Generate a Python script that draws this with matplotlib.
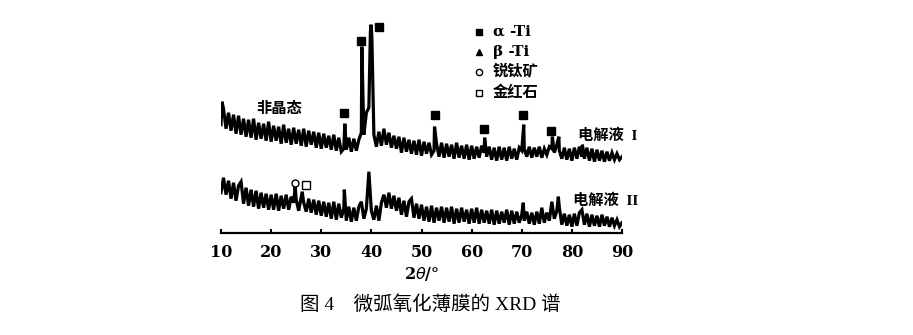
"""微弧氧化薄膜的 XRD 谱（图 4）重绘。"""

import matplotlib
matplotlib.use("Agg")
import matplotlib.pyplot as plt
import numpy as np

plt.rcParams["font.family"] = ["DejaVu Serif", "Noto Sans CJK SC"]

# ---------------- 数据 ----------------
# 衍射角网格 0.5° 步长上的强度（相对坐标轴高度）
grid = np.arange(10.0, 90.01, 0.5)

int_I = [
    108, 124, 104, 120, 102, 118, 99, 117, 98, 114,      # 10.0 - 14.5
    96, 113, 95, 114, 93, 110, 94, 109, 92, 111,         # 15.0 - 19.5
    91, 107, 92, 106, 89, 108, 90, 104, 88, 105,         # 20.0 - 24.5
    89, 103, 87, 104, 86, 102, 88, 101, 85, 100,         # 25.0 - 29.5
    84, 99, 85, 97, 83, 98, 82, 95, 81, 84,              # 30.0 - 34.5
    83, 95, 81, 94, 82, 93, 100, 98, 120, 125,           # 35.0 - 39.5
    205, 98, 86, 101, 87, 104, 88, 100, 85, 97,          # 40.0 - 44.5
    84, 96, 80, 95, 81, 93, 79, 92, 78, 93,              # 45.0 - 49.5
    77, 91, 79, 90, 78, 82, 89, 76, 90, 75,              # 50.0 - 54.5
    89, 76, 88, 74, 90, 75, 87, 74, 88, 73,              # 55.0 - 59.5
    87, 74, 86, 75, 87, 80, 76, 86, 73, 85,              # 60.0 - 64.5
    72, 86, 73, 85, 72, 86, 74, 84, 73, 85,              # 65.0 - 69.5
    82, 84, 76, 86, 75, 85, 76, 86, 75, 84,              # 70.0 - 74.5
    78, 86, 84, 80, 88, 82, 74, 85, 73, 84,              # 75.0 - 79.5
    72, 85, 74, 86, 76, 74, 85, 72, 84, 71,              # 80.0 - 84.5
    83, 72, 82, 71, 81, 72, 80, 73, 79, 73,              # 85.0 - 89.5
    76,                                                  # 90.0
]
peak_x_I = [10.2, 34.7, 38.1, 39.8, 39.9, 40.1, 52.6, 62.6, 70.4, 76.1, 77.4, 82.1]
peak_y_I = [131, 109, 186, 200, 208, 195, 106, 95, 108, 96, 96, 88]

int_II = [
    40, 55, 38, 52, 34, 50, 32, 47, 51, 29,              # 10.0 - 14.5
    45, 27, 43, 26, 42, 24, 40, 25, 39, 23,              # 15.0 - 19.5
    38, 23, 39, 22, 37, 24, 38, 23, 36, 30,              # 20.0 - 24.5
    33, 22, 36, 30, 21, 34, 20, 33, 18, 32,              # 25.0 - 29.5
    17, 31, 16, 30, 14, 31, 13, 29, 15, 24,              # 30.0 - 34.5
    12, 26, 11, 25, 12, 26, 31, 14, 24, 61,              # 35.0 - 39.5
    22, 13, 27, 12, 30, 38, 25, 40, 24, 37,              # 40.0 - 44.5
    22, 35, 18, 32, 16, 31, 34, 15, 29, 14,              # 45.0 - 49.5
    28, 12, 26, 11, 27, 10, 25, 12, 26, 10,              # 50.0 - 54.5
    25, 11, 26, 9, 24, 10, 25, 11, 23, 9,                # 55.0 - 59.5
    24, 10, 25, 9, 23, 10, 22, 9, 23, 8,                 # 60.0 - 64.5
    22, 9, 21, 10, 23, 8, 22, 9, 21, 10,                 # 65.0 - 69.5
    18, 12, 21, 9, 20, 8, 21, 9, 25, 10,                 # 70.0 - 74.5
    20, 12, 31, 14, 22, 25, 8, 19, 7, 18,                # 75.0 - 79.5
    6, 19, 7, 20, 23, 8, 19, 6, 18, 7,                   # 80.0 - 84.5
    17, 6, 18, 7, 16, 6, 15, 7, 13, 6,                   # 85.0 - 89.5
    10,                                                  # 90.0
]
peak_x_II = [24.8, 26.2, 34.6, 70.3, 77.3]
peak_y_II = [46, 41, 43, 30, 36]

# 物相标记
alpha_x = [34.6, 37.9, 41.5, 52.7, 62.4, 70.3, 75.9]
alpha_y = [120, 192, 206, 118, 104, 118, 102]
anatase_x, anatase_y = [24.7], [50]
rutile_x, rutile_y = [26.9], [48]

legend_labels = ["α -Ti", "β -Ti", "锐钛矿", "金红石"]
legend_y = [201, 181, 161, 140]


def merge(xg, yg, xp, yp):
    x = np.concatenate([xg, xp])
    y = np.concatenate([yg, yp])
    order = np.argsort(x, kind="stable")
    return x[order], y[order]


# ---------------- 绘图 ----------------
W, H = 913, 335
fig = plt.figure(figsize=(W / 100, H / 100), dpi=100)
ax = fig.add_axes([221 / W, 102.3 / H, 401 / W, 232.7 / H])

for yg, xp, yp in [(int_I, peak_x_I, peak_y_I), (int_II, peak_x_II, peak_y_II)]:
    x, y = merge(grid, np.array(yg, float), np.array(xp), np.array(yp, float))
    ax.plot(x, y, color="black", lw=2.3, solid_joinstyle="miter")

ax.plot(alpha_x, alpha_y, "s", color="black", ms=5.5, ls="none")
ax.plot(anatase_x, anatase_y, "o", mfc="white", mec="black", mew=1.0, ms=5, ls="none")
ax.plot(rutile_x, rutile_y, "s", mfc="white", mec="black", mew=1.0, ms=5.5, ls="none")

# 图例（手工排布）
leg_marks = [dict(marker="s", mfc="black", ms=4.5),
             dict(marker="^", mfc="black", ms=4),
             dict(marker="o", mfc="white", ms=4.5),
             dict(marker="s", mfc="white", ms=5)]
for lab, ly, mk in zip(legend_labels, legend_y, leg_marks):
    ax.plot([61.4], [ly], ls="none", mec="black", mew=1.0, **mk)
    ax.text(64.2, ly, lab, fontsize=11, fontweight="bold", va="center", ha="left")

ax.text(21.6, 124, "非晶态", fontsize=11, fontweight="bold", ha="center", va="center")
ax.text(81.2, 97, "电解液  I", fontsize=11, fontweight="bold", ha="left", va="center",
        family=["Liberation Serif", "Noto Sans CJK SC"])
ax.text(80.2, 32, "电解液  II", fontsize=11, fontweight="bold", ha="left", va="center",
        family=["Liberation Serif", "Noto Sans CJK SC"])

ax.set_xlim(10, 90)
ax.set_ylim(0, 232.7)
ax.set_xticks(np.arange(10, 91, 10))
ax.tick_params(axis="x", direction="in", length=3, width=1.5, labelsize=11.5, pad=8)
for t in ax.get_xticklabels():
    t.set_fontweight("bold")
ax.set_yticks([])
for s in ("left", "right", "top"):
    ax.spines[s].set_visible(False)
ax.spines["bottom"].set_linewidth(1.6)
ax.patch.set_alpha(0)
ax.set_xlabel(r"2$\theta$/°", fontsize=11.5, fontweight="bold", labelpad=3)

fig.text(430 / W, 1 - 305 / H, "图 4    微弧氧化薄膜的 XRD 谱", fontsize=14,
         ha="center", va="center", family=["Liberation Serif", "Noto Sans CJK SC"])

fig.savefig("out.png", dpi=100)
